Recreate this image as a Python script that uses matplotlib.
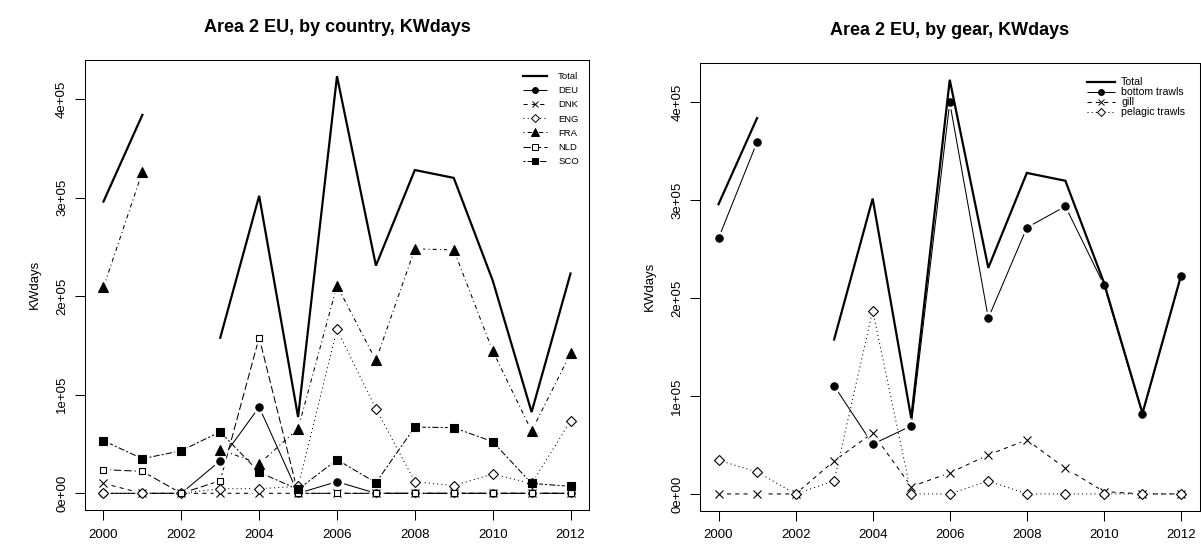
import numpy as np
import matplotlib
matplotlib.use("Agg")
import matplotlib.pyplot as plt
from matplotlib.lines import Line2D

plt.rcParams['font.family'] = ['Liberation Sans', 'DejaVu Sans']

nan = np.nan
years = list(range(2000, 2013))

# by country
total = [2.96e5, 3.84e5, nan, 1.578e5, 3.018e5, 0.774e5, 4.232e5, 2.31e5, 3.28e5, 3.20e5, 2.16e5, 0.824e5, 2.23e5]
deu = [0, 0, 0, 0.331e5, 0.875e5, 0, 0.118e5, 0, 0, 0, 0, 0, 0]
dnk = [0.10e5, 0, 0, 0, 0, 0, 0, 0, 0, 0, 0, 0, 0]
eng = [0, 0, 0, 0.047e5, 0.047e5, 0.07e5, 1.662e5, 0.858e5, 0.118e5, 0.078e5, 0.196e5, 0.10e5, 0.733e5]
fra = [2.09e5, 3.262e5, nan, 0.443e5, 0.30e5, 0.655e5, 2.108e5, 1.348e5, 2.48e5, 2.47e5, 1.446e5, 0.632e5, 1.419e5]
nld = [0.24e5, 0.223e5, 0, 0.128e5, 1.58e5, 0, 0, 0, 0, 0, 0, 0, 0]
sco = [0.534e5, 0.351e5, 0.432e5, 0.625e5, 0.213e5, 0.04e5, 0.341e5, 0.108e5, 0.672e5, 0.666e5, 0.524e5, 0.10e5, 0.071e5]

# by gear
bottom = [2.612e5, 3.595e5, nan, 1.104e5, 0.508e5, 0.695e5, 4.0e5, 1.796e5, 2.721e5, 2.939e5, 2.136e5, 0.814e5, 2.224e5]
gill = [0, 0, 0, 0.337e5, 0.623e5, 0.075e5, 0.215e5, 0.399e5, 0.552e5, 0.262e5, 0.024e5, 0, 0]
pelagic = [0.344e5, 0.225e5, 0, 0.133e5, 1.874e5, 0, 0, 0.133e5, 0, 0, 0, 0, 0]

country_names = ["DEU", "DNK", "ENG", "FRA", "NLD", "SCO"]
gear_names = ["bottom trawls", "gill", "pelagic trawls"]

# R style line types and point characters
lty = [(0, ()), (0, (4, 4)), (0, (1, 3)), (0, (1, 3, 4, 3)), (0, (7, 3)), (0, (2, 2, 6, 2))]
pch = [("o", "k", 5.3), ("x", "k", 5.5), ("D", "white", 5.0), ("^", "k", 6.5), ("s", "white", 5.0), ("s", "k", 5.3)]

W, H = 1201, 546
fig = plt.figure(figsize=(W / 100, H / 100), dpi=100)


def panel(rect, title, series, names, leg):
    ax = fig.add_axes(rect)
    for i, y in enumerate(series):
        ax.plot(years, y, color="k", lw=0.75, ls=lty[i], zorder=2)
        # R type="b": leave a gap round each point
        ax.plot(years, y, ls="none", marker="o", ms=pch[i][2] + 3.5, mfc="white", mec="white", zorder=3)
    ax.plot(years, total, color="k", lw=1.6, zorder=4, solid_joinstyle="miter")
    for i, y in enumerate(series):
        m, fc, ms = pch[i]
        ax.plot(years, y, ls="none", marker=m, ms=ms, mfc=fc, mec="k", mew=0.8, zorder=5)

    ymax = max(np.nanmax(total), max(np.nanmax(s) for s in series))
    ax.set_xlim(2000 - 0.48, 2012 + 0.48)
    ax.set_ylim(-0.04 * ymax, ymax * 1.04)
    ax.set_xticks(range(2000, 2013, 2))
    ax.set_yticks([0, 1e5, 2e5, 3e5, 4e5])
    ax.set_yticklabels([f"{v:.0e}" for v in [0, 1e5, 2e5, 3e5, 4e5]], rotation=90, va="center")
    ax.tick_params(length=7, width=0.75, pad=6.5, labelsize=9.5, direction="out")
    ax.tick_params(axis="y", pad=5)
    for s in ax.spines.values():
        s.set_linewidth(0.75)
    ax.set_ylabel("KWdays", fontsize=9.5, labelpad=11)
    ax.set_title(title, fontsize=13, fontweight="bold", pad=20)

    handles = [Line2D([], [], color="k", lw=1.6)]
    for i in range(len(series)):
        m, fc, ms = pch[i]
        handles.append(Line2D([], [], color="k", lw=0.75, ls=lty[i], marker=m, ms=ms * 0.8,
                              mfc=fc, mec="k", mew=0.7))
    ax.legend(handles, ["Total"] + names, loc="upper left", frameon=False,
              bbox_to_anchor=leg["anchor"], bbox_transform=fig.transFigure,
              fontsize=leg["fs"], handlelength=leg["hl"], handletextpad=leg["tp"],
              labelspacing=leg["ls"], borderpad=0, borderaxespad=0)
    return ax


panel([84.8 / W, 36 / H, 504.4 / W, 450.5 / H], "Area 2 EU, by country, KWdays",
      [deu, dnk, eng, fra, nld, sco], country_names,
      dict(anchor=(522.7 / W, 1 - 72 / H), fs=6.8, hl=2.55, tp=1.2, ls=0.55))

pch = [("o", "k", 5.3), ("x", "k", 5.5), ("D", "white", 5.0)]
panel([700 / W, 35.5 / H, 499.5 / W, 447.3 / H], "Area 2 EU, by gear, KWdays",
      [bottom, gill, pelagic], gear_names,
      dict(anchor=(1086.7 / W, 1 - 77.5 / H), fs=7.6, hl=2.65, tp=0.6, ls=0.0))

fig.savefig("out.png", dpi=100)
